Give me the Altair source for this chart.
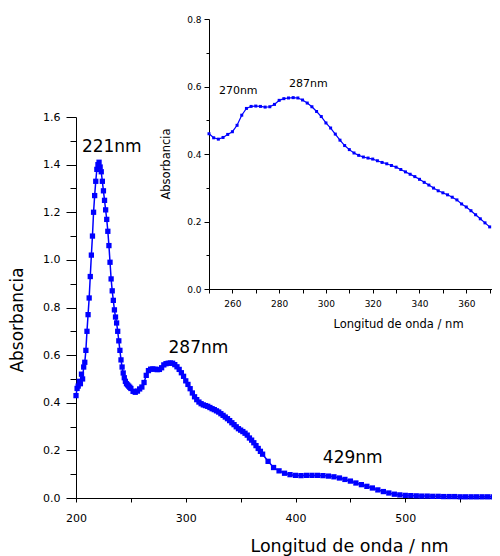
import altair as alt
import pandas as pd

# ---------------- data ----------------
# 200-249 nm, 1 nm steps (steep UV band)
wl_a = list(range(200, 250))
abs_a = [0.43, 0.46, 0.47, 0.49, 0.48, 0.52, 0.50, 0.55, 0.57, 0.62,
         0.70, 0.77, 0.84, 0.93, 1.02, 1.10, 1.20, 1.27, 1.33, 1.38,
         1.40, 1.41, 1.39, 1.37, 1.33, 1.29, 1.25, 1.21, 1.17, 1.12,
         1.06, 0.99, 0.92, 0.87, 0.83, 0.79, 0.76, 0.735, 0.70, 0.66,
         0.62, 0.58, 0.55, 0.525, 0.505, 0.49, 0.48, 0.475, 0.47, 0.465]
# 250-370 nm, 2 nm steps
wl_b = list(range(250, 371, 2))
abs_b = [0.460, 0.448, 0.444, 0.449, 0.458, 0.466, 0.485, 0.515, 0.535, 0.541,
         0.542, 0.541, 0.539, 0.540, 0.547, 0.559, 0.564, 0.566, 0.567, 0.566,
         0.560, 0.551, 0.540, 0.526, 0.511, 0.492, 0.477, 0.459, 0.441, 0.425,
         0.413, 0.403, 0.396, 0.391, 0.388, 0.385, 0.380, 0.375, 0.371, 0.366,
         0.361, 0.354, 0.347, 0.340, 0.333, 0.325, 0.316, 0.308, 0.299, 0.291,
         0.285, 0.279, 0.272, 0.264, 0.252, 0.243, 0.232, 0.220, 0.208, 0.196,
         0.184]
# 375-585 nm, 5 nm steps
wl_c = list(range(375, 586, 5))
abs_c = [0.154, 0.128, 0.114, 0.104, 0.098, 0.095, 0.094, 0.095, 0.095, 0.095,
         0.094, 0.092, 0.089, 0.084, 0.078, 0.071, 0.063, 0.056, 0.049, 0.042,
         0.034, 0.027, 0.021, 0.016, 0.013, 0.011, 0.010, 0.009, 0.008, 0.008,
         0.007, 0.007, 0.006, 0.006, 0.006, 0.005, 0.005, 0.005, 0.005, 0.005,
         0.005, 0.005, 0.005]

main_ticks_x = [200, 250, 300, 350, 400, 450, 500, 550]
main_ticks_y = [0.0, 0.1, 0.2, 0.3, 0.4, 0.5, 0.6, 0.7, 0.8, 0.9,
                1.0, 1.1, 1.2, 1.3, 1.4, 1.5, 1.6]
inset_ticks_x = [250, 260, 270, 280, 290, 300, 310, 320, 330, 340, 350, 360, 370]
inset_ticks_y = [0.0, 0.1, 0.2, 0.3, 0.4, 0.5, 0.6, 0.7, 0.8]

main_labels = ["221nm", "287nm", "429nm"]
main_label_nm = [232.6, 311.5, 452.1]
main_label_abs = [1.472, 0.629, 0.167]
inset_labels = ["270nm", "287nm"]
inset_label_nm = [262.5, 292.5]
inset_label_abs = [0.587, 0.606]

spec = pd.DataFrame({"nm": wl_a + wl_b + wl_c, "A": abs_a + abs_b + abs_c})
main_ann = pd.DataFrame({"nm": main_label_nm, "A": main_label_abs, "label": main_labels})
inset_ann = pd.DataFrame({"nm": inset_label_nm, "A": inset_label_abs, "label": inset_labels})

BLUE = "#0000ff"
FONT = "DejaVu Sans"

# ---------------- main plot encodings ----------------
mx = alt.X("nm:Q",
           scale=alt.Scale(domain=[200, 579], range=[0, 416], nice=False, zero=False),
           axis=alt.Axis(values=main_ticks_x, format="d",
                         labelExpr="datum.value % 100 == 0 ? datum.label : ''",
                         tickSize=4, labelPadding=10, labelFontSize=11, labelFont=FONT,
                         labelFlush=False, labelOverlap=False,
                         title="Longitud de onda / nm", titleFont=FONT, titleFontSize=17.5,
                         titleFontWeight="normal", titleX=273, titleY=48.5,
                         titleBaseline="middle", titleAlign="center"))
my = alt.Y("A:Q",
           scale=alt.Scale(domain=[0, 1.6], range=[490, 109], nice=False, zero=False),
           axis=alt.Axis(values=main_ticks_y, format=".1f",
                         labelExpr="round(datum.value*10) % 2 == 0 ? datum.label : ''",
                         tickSize={"condition": {"test": "round(datum.value*10) % 2 == 0", "value": 10}, "value": 6},
                         labelPadding=6, labelFontSize=11, labelFont=FONT,
                         labelFlush=False, labelOverlap=False,
                         title="Absorbancia", titleFont=FONT, titleFontSize=17,
                         titleFontWeight="normal", titleAngle=270, titleX=-58.5, titleY=311.5,
                         titleBaseline="middle", titleAlign="center"))

main_line = alt.Chart(spec).mark_line(color=BLUE, strokeWidth=1.5).encode(x=mx, y=my)
main_pts = alt.Chart(spec).mark_square(color=BLUE, size=28, opacity=1, strokeWidth=0).encode(x=mx, y=my)
main_txt = alt.Chart(main_ann).mark_text(font=FONT, fontSize=17, color="black",
                                         align="center", baseline="middle").encode(x=mx, y=my, text="label:N")
main = alt.layer(main_line, main_pts, main_txt)

# ---------------- inset encodings ----------------
ix = alt.X("nm:Q",
           scale=alt.Scale(domain=[250, 371], range=[133, 416], nice=False, zero=False),
           axis=alt.Axis(orient="bottom", offset=-209, values=inset_ticks_x, format="d",
                         labelExpr="datum.value % 20 == 0 ? datum.label : ''",
                         tickSize=4, labelPadding=6, labelFontSize=9, labelFont=FONT,
                         labelFlush=False, labelOverlap=False,
                         title="Longitud de onda / nm", titleFont=FONT, titleFontSize=11.5,
                         titleFontWeight="normal", titleX=322, titleY=35,
                         titleBaseline="middle", titleAlign="center"))
iy = alt.Y("A:Q",
           scale=alt.Scale(domain=[0, 0.8], range=[281, 11], nice=False, zero=False),
           axis=alt.Axis(orient="left", offset=-133, values=inset_ticks_y, format=".1f",
                         labelExpr="round(datum.value*10) % 2 == 0 ? datum.label : ''",
                         tickSize={"condition": {"test": "round(datum.value*10) % 2 == 0", "value": 5}, "value": 3},
                         labelPadding=3, labelFontSize=9, labelFont=FONT,
                         labelFlush=False, labelOverlap=False,
                         title="Absorbancia", titleFont=FONT, titleFontSize=11.5,
                         titleFontWeight="normal", titleAngle=270, titleX=-42.3, titleY=155.5,
                         titleBaseline="middle", titleAlign="center"))

inset_src = alt.Chart(spec).transform_filter("datum.nm >= 250 && datum.nm <= 371")
inset_line = inset_src.mark_line(color=BLUE, strokeWidth=1.2).encode(x=ix, y=iy)
inset_pts = inset_src.mark_square(color=BLUE, size=9, opacity=1, strokeWidth=0).encode(x=ix, y=iy)
inset_txt = alt.Chart(inset_ann).mark_text(font=FONT, fontSize=11, color="black",
                                           align="center", baseline="middle").encode(x=ix, y=iy, text="label:N")
inset = alt.layer(inset_line, inset_pts, inset_txt)

chart = (
    alt.layer(main, inset)
    .resolve_scale(x="independent", y="independent")
    .properties(width=416, height=490,
                autosize=alt.AutoSizeParams(type="none"),
                padding={"left": 68, "top": 0, "right": 0, "bottom": 58})
    .configure_view(stroke=None)
    .configure_axis(grid=False, domainColor="black", tickColor="black",
                    labelColor="black", titleColor="black")
)

chart.save("out.html", embed_options={"renderer": "svg", "actions": False})
